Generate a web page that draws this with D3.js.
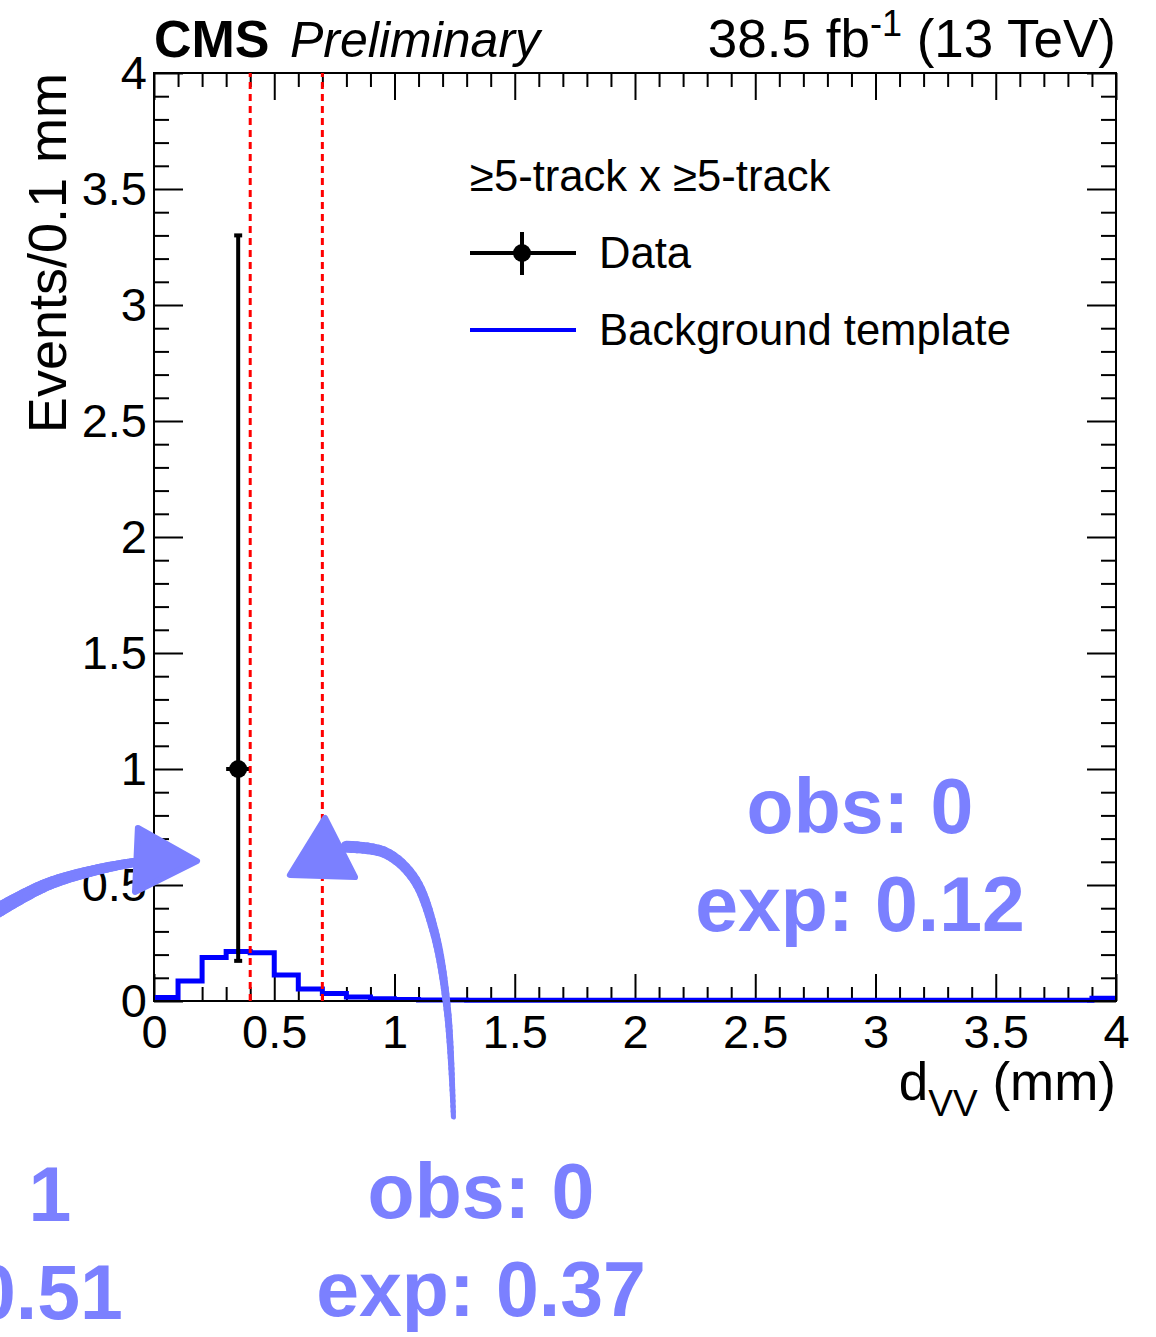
<!DOCTYPE html>
<html>
<head>
<meta charset="utf-8">
<script src="https://cdn.jsdelivr.net/npm/d3@7"></script>
<style>
  body { margin: 0; background: #fff; }
  svg { display: block; font-family: "Liberation Sans", Arial, sans-serif; }
</style>
</head>
<body>
<svg id="chart" width="1156" height="1337"></svg>
<script>
// background template, 0.1 mm bins from 0 to 4 mm
var binWidth = 0.1;
var bgValues = [0.015, 0.086, 0.187, 0.213, 0.208, 0.112, 0.052, 0.032, 0.017, 0.010,
                0.006, 0.004, 0.004, 0.003, 0.003, 0.003, 0.003, 0.003, 0.003, 0.003,
                0.003, 0.003, 0.003, 0.003, 0.003, 0.003, 0.003, 0.003, 0.003, 0.003,
                0.003, 0.003, 0.003, 0.003, 0.003, 0.003, 0.003, 0.003, 0.003, 0.012];

// observed data: one event
var dataX = [0.35];
var dataY = [1];
var dataErrLo = [0.827];
var dataErrHi = [2.30];

var cutLines = [0.4, 0.7];

var xMajor = [0, 0.5, 1, 1.5, 2, 2.5, 3, 3.5, 4];
var xLabels = ["0", "0.5", "1", "1.5", "2", "2.5", "3", "3.5", "4"];
var yMajor = [0, 0.5, 1, 1.5, 2, 2.5, 3, 3.5, 4];
var yLabels = ["0", "0.5", "1", "1.5", "2", "2.5", "3", "3.5", "4"];

// hand-drawn annotations (data units)
var arrowA = [[-0.70, 0.36], [-0.45, 0.50], [-0.22, 0.57], [-0.065, 0.60]];
var arrowAHead = [[-0.067, 0.746], [0.179, 0.603], [-0.079, 0.470]];
var arrowB = [[0.80, 0.665], [0.96, 0.64], [1.08, 0.53], [1.165, 0.30], [1.22, -0.04], [1.245, -0.50]];
var arrowBHead = [[0.711, 0.789], [0.565, 0.543], [0.836, 0.534]];

var svg = d3.select("#chart");
var L = 154, R = 1116, T = 73, B = 1001;
var x = d3.scaleLinear().domain([0, 4]).range([L, R]);
var y = d3.scaleLinear().domain([0, 4]).range([B, T]);
var annoColor = "#7b80ff";

var minorX = d3.range(0, 41).map(d => d / 10).filter(d => Math.round(d * 10) % 5 != 0);
var minorY = minorX;

function styleAxis(g){
    g.select(".domain").remove();
    g.selectAll("line").attr("stroke", "#000").attr("stroke-width", 2);
    g.selectAll("text").attr("fill", "#000")
        .style("font-family", "'Liberation Sans', Arial, sans-serif")
        .style("font-size", "47px");
}

// ticks on all four sides, pointing inward
svg.append("g").attr("transform", "translate(0," + B + ")")
    .call(d3.axisBottom(x).tickValues(xMajor).tickSize(-27).tickPadding(14)
        .tickFormat((d, i) => xLabels[i]))
    .call(styleAxis);
svg.append("g").attr("transform", "translate(0," + B + ")")
    .call(d3.axisBottom(x).tickValues(minorX).tickSize(-14).tickFormat(""))
    .call(styleAxis);
svg.append("g").attr("transform", "translate(0," + T + ")")
    .call(d3.axisTop(x).tickValues(xMajor).tickSize(-27).tickFormat(""))
    .call(styleAxis);
svg.append("g").attr("transform", "translate(0," + T + ")")
    .call(d3.axisTop(x).tickValues(minorX).tickSize(-14).tickFormat(""))
    .call(styleAxis);

svg.append("g").attr("transform", "translate(" + L + ",0)")
    .call(d3.axisLeft(y).tickValues(yMajor).tickSize(-29).tickPadding(7)
        .tickFormat((d, i) => yLabels[i]))
    .call(styleAxis);
svg.append("g").attr("transform", "translate(" + L + ",0)")
    .call(d3.axisLeft(y).tickValues(minorY).tickSize(-15).tickFormat(""))
    .call(styleAxis);
svg.append("g").attr("transform", "translate(" + R + ",0)")
    .call(d3.axisRight(y).tickValues(yMajor).tickSize(-29).tickFormat(""))
    .call(styleAxis);
svg.append("g").attr("transform", "translate(" + R + ",0)")
    .call(d3.axisRight(y).tickValues(minorY).tickSize(-15).tickFormat(""))
    .call(styleAxis);

// background histogram
var histPts = bgValues.map((v, i) => [i * binWidth, v]);
histPts.push([bgValues.length * binWidth, bgValues[bgValues.length - 1]]);
svg.append("path")
    .attr("d", d3.line().x(d => x(d[0])).y(d => y(d[1])).curve(d3.curveStepAfter)(histPts))
    .attr("fill", "none")
    .attr("stroke", "#0000ff")
    .attr("stroke-width", 5);

// frame
svg.append("rect")
    .attr("x", L).attr("y", T).attr("width", R - L).attr("height", B - T)
    .attr("fill", "none").attr("stroke", "#000").attr("stroke-width", 2);

// data point with poisson error
dataX.forEach(function(dx, i){
    var g = svg.append("g").attr("stroke", "#000").attr("stroke-width", 4);
    g.append("line")
        .attr("x1", x(dx)).attr("x2", x(dx))
        .attr("y1", y(dataY[i] - dataErrLo[i])).attr("y2", y(dataY[i] + dataErrHi[i]));
    g.append("line")
        .attr("x1", x(dx - binWidth / 2)).attr("x2", x(dx + binWidth / 2))
        .attr("y1", y(dataY[i])).attr("y2", y(dataY[i]));
    [dataY[i] - dataErrLo[i], dataY[i] + dataErrHi[i]].forEach(function(v){
        g.append("line")
            .attr("x1", x(dx) - 4).attr("x2", x(dx) + 4)
            .attr("y1", y(v)).attr("y2", y(v));
    });
    svg.append("circle").attr("cx", x(dx)).attr("cy", y(dataY[i])).attr("r", 9).attr("fill", "#000");
});

// cut lines
svg.selectAll(".cut")
    .data(cutLines)
    .enter()
    .append("line")
    .attr("class", "cut")
    .attr("x1", d => x(d)).attr("x2", d => x(d))
    .attr("y1", y(0)).attr("y2", y(4))
    .attr("stroke", "#ff0000")
    .attr("stroke-width", 3)
    .attr("stroke-dasharray", "7,5");

// titles
var titleG = svg.append("g").attr("fill", "#000");
titleG.append("text").attr("x", 154).attr("y", 57)
    .style("font-size", "52px").style("font-weight", "bold").text("CMS");
titleG.append("text").attr("x", 290).attr("y", 57)
    .style("font-size", "50px").style("font-style", "italic").text("Preliminary");
var lumi = titleG.append("text").attr("x", 1116).attr("y", 57)
    .attr("text-anchor", "end").style("font-size", "53px");
lumi.append("tspan").text("38.5 fb");
lumi.append("tspan").attr("dy", -21).style("font-size", "36px").text("-1");
lumi.append("tspan").attr("dy", 21).text(" (13 TeV)");

svg.append("text")
    .attr("transform", "translate(66," + T + ") rotate(-90)")
    .attr("text-anchor", "end")
    .style("font-size", "54px")
    .text("Events/0.1 mm");

var xt = svg.append("text").attr("x", 1116).attr("y", 1100)
    .attr("text-anchor", "end").style("font-size", "53px");
xt.append("tspan").text("d");
xt.append("tspan").attr("dy", 16).style("font-size", "37px").text("VV");
xt.append("tspan").attr("dy", -16).text(" (mm)");

// legend
var leg = svg.append("g").style("font-size", "43.6px");
leg.append("text").attr("x", 470).attr("y", 191).text("≥5-track x ≥5-track");
leg.append("line").attr("x1", 470).attr("x2", 576).attr("y1", 253).attr("y2", 253)
    .attr("stroke", "#000").attr("stroke-width", 4);
leg.append("line").attr("x1", 522).attr("x2", 522).attr("y1", 232).attr("y2", 275)
    .attr("stroke", "#000").attr("stroke-width", 4);
leg.append("circle").attr("cx", 522).attr("cy", 253).attr("r", 9).attr("fill", "#000");
leg.append("text").attr("x", 599).attr("y", 268).text("Data");
leg.append("line").attr("x1", 470).attr("x2", 576).attr("y1", 330).attr("y2", 330)
    .attr("stroke", "#0000ff").attr("stroke-width", 4);
leg.append("text").attr("x", 599).attr("y", 345).text("Background template");

// annotations
function brush(pts, w0, w1){
    var p = svg.append("path")
        .attr("d", d3.line().x(d => x(d[0])).y(d => y(d[1])).curve(d3.curveCatmullRom)(pts))
        .attr("fill", "none");
    var node = p.node();
    var len = node.getTotalLength();
    var n = 60;
    for (let i = 0; i < n; i++) {
        var a = node.getPointAtLength(len * i / n);
        var b = node.getPointAtLength(len * (i + 1) / n);
        svg.append("line")
            .attr("x1", a.x).attr("y1", a.y).attr("x2", b.x).attr("y2", b.y)
            .attr("stroke", annoColor)
            .attr("stroke-linecap", "round")
            .attr("stroke-width", w0 + (w1 - w0) * i / n);
    }
    p.remove();
}
function head(pts){
    svg.append("path")
        .attr("d", d3.line().x(d => x(d[0])).y(d => y(d[1]))(pts) + "Z")
        .attr("fill", annoColor)
        .attr("stroke", annoColor)
        .attr("stroke-width", 6)
        .attr("stroke-linejoin", "round");
}
brush(arrowA, 15, 9);
head(arrowAHead);
brush(arrowB, 12, 5);
head(arrowBHead);

var notes = [
    {cx: 860, lines: ["obs: 0", "exp: 0.12"], y0: 833},
    {cx: 481, lines: ["obs: 0", "exp: 0.37"], y0: 1218},
    {cx: -42, lines: ["obs: 1", "exp: 0.51"], y0: 1221}
];
notes.forEach(function(n){
    n.lines.forEach(function(t, i){
        svg.append("text")
            .attr("x", n.cx).attr("y", n.y0 + i * 98)
            .attr("text-anchor", "middle")
            .attr("fill", annoColor)
            .style("font-size", "77px")
            .style("font-weight", "bold")
            .text(t);
    });
});
</script>
</body>
</html>
